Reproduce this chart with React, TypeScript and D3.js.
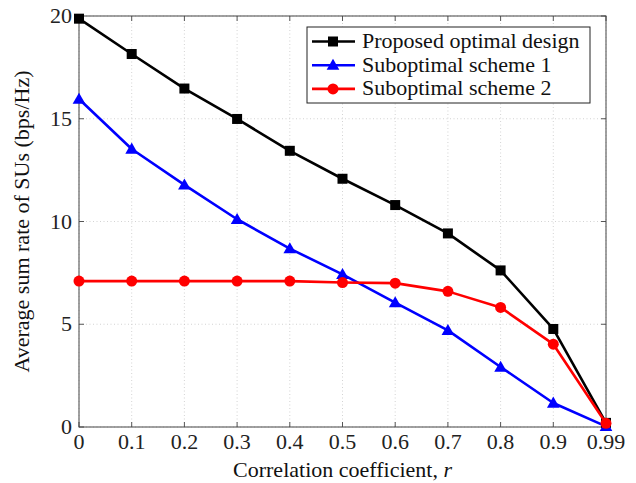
import React from 'react';
import * as d3 from 'd3';

// data
const categories = ['0', '0.1', '0.2', '0.3', '0.4', '0.5', '0.6', '0.7', '0.8', '0.9', '0.99'];
const optimalValues = [19.87, 18.15, 16.47, 14.99, 13.44, 12.08, 10.8, 9.42, 7.62, 4.77, 0.2];
const scheme1Values = [15.96, 13.53, 11.78, 10.11, 8.68, 7.43, 6.05, 4.7, 2.92, 1.17, 0.03];
const scheme2Values = [7.1, 7.1, 7.1, 7.1, 7.1, 7.03, 7.0, 6.6, 5.82, 4.03, 0.18];
const yTicks = [0, 5, 10, 15, 20];

const seriesNames = ['Proposed optimal design', 'Suboptimal scheme 1', 'Suboptimal scheme 2'];
const seriesColors = ['#000000', '#0000ff', '#ff0000'];
const seriesMarkers = ['square', 'triangle', 'circle'];

const margin = {top: 16, right: 30, bottom: 56, left: 79};
const W = 636;
const H = 483;
const width = W - margin.left - margin.right;
const height = H - margin.top - margin.bottom;
const font = '"Liberation Serif", "Times New Roman", serif';

function Marker({type, x, y, color}: {type: string; x: number; y: number; color: string}) {
  if (type === 'square') return <rect x={x - 5} y={y - 5} width={10} height={10} fill={color} />;
  if (type === 'triangle') {
    const p = d3.symbol(d3.symbolTriangle, 70)();
    return <path d={p as string} transform={`translate(${x},${y + 1})`} fill={color} />;
  }
  return <circle cx={x} cy={y} r={5.5} fill={color} />;
}

export default function App() {
  const xScale = d3.scalePoint<string>().domain(categories).range([0, width]);
  const yScale = d3.scaleLinear().domain([0, 20]).range([height, 0]);

  const series = [optimalValues, scheme1Values, scheme2Values];
  const line = d3.line<number>()
    .x((_, i) => xScale(categories[i]) as number)
    .y(d => yScale(d));

  return (
    <svg width={W} height={H} style={{position: 'absolute', left: 0, top: 0, fontFamily: font}}>
      <rect width={W} height={H} fill="#fff" />
      <g transform={`translate(${margin.left},${margin.top})`}>
        {/* grid */}
        {categories.map(c => (
          <line key={'gx' + c} x1={xScale(c)} x2={xScale(c)} y1={0} y2={height}
            stroke="#c8c8c8" strokeWidth={0.8} strokeDasharray="1,2.5" />
        ))}
        {yTicks.map(t => (
          <line key={'gy' + t} x1={0} x2={width} y1={yScale(t)} y2={yScale(t)}
            stroke="#c8c8c8" strokeWidth={0.8} strokeDasharray="1,2.5" />
        ))}
        {/* ticks */}
        {categories.map(c => (
          <g key={'tx' + c}>
            <line x1={xScale(c)} x2={xScale(c)} y1={height} y2={height - 5} stroke="#555" />
            <line x1={xScale(c)} x2={xScale(c)} y1={0} y2={5} stroke="#555" />
            <text x={xScale(c)} y={height + 22} textAnchor="middle" fontSize={22} fill="#222">{c}</text>
          </g>
        ))}
        {yTicks.map(t => (
          <g key={'ty' + t}>
            <line x1={0} x2={5} y1={yScale(t)} y2={yScale(t)} stroke="#555" />
            <line x1={width} x2={width - 5} y1={yScale(t)} y2={yScale(t)} stroke="#555" />
            <text x={-7} y={yScale(t) + 7} textAnchor="end" fontSize={22} fill="#222">{t}</text>
          </g>
        ))}
        <rect x={0} y={0} width={width} height={height} fill="none" stroke="#444" strokeWidth={1} />

        {/* lines */}
        {series.map((vals, si) => (
          <g key={'s' + si}>
            <path d={line(vals) as string} fill="none" stroke={seriesColors[si]} strokeWidth={2.6} strokeLinejoin="round" />
            {vals.map((v, i) => (
              <Marker key={i} type={seriesMarkers[si]} x={xScale(categories[i]) as number} y={yScale(v)} color={seriesColors[si]} />
            ))}
          </g>
        ))}

        {/* legend */}
        <g transform={`translate(${307 - margin.left},${27 - margin.top})`}>
          <rect x={0} y={0} width={283} height={76} fill="#fff" stroke="#222" strokeWidth={1} />
          {seriesNames.map((n, i) => (
            <g key={n} transform={`translate(0,${14.5 + i * 23.7})`}>
              <line x1={5} x2={48} y1={0} y2={0} stroke={seriesColors[i]} strokeWidth={2.6} />
              <Marker type={seriesMarkers[i]} x={26} y={0} color={seriesColors[i]} />
              <text x={55} y={6.5} fontSize={22} fill="#111">{n}</text>
            </g>
          ))}
        </g>

        {/* axis titles */}
        <text x={width / 2} y={height + 50} textAnchor="middle" fontSize={22} fill="#111">
          Correlation coefficient, <tspan fontStyle="italic">r</tspan>
        </text>
        <text transform={`translate(${-50},${height / 2}) rotate(-90)`} textAnchor="middle" fontSize={22} fill="#111">
          Average sum rate of SUs (bps/Hz)
        </text>
      </g>
    </svg>
  );
}
